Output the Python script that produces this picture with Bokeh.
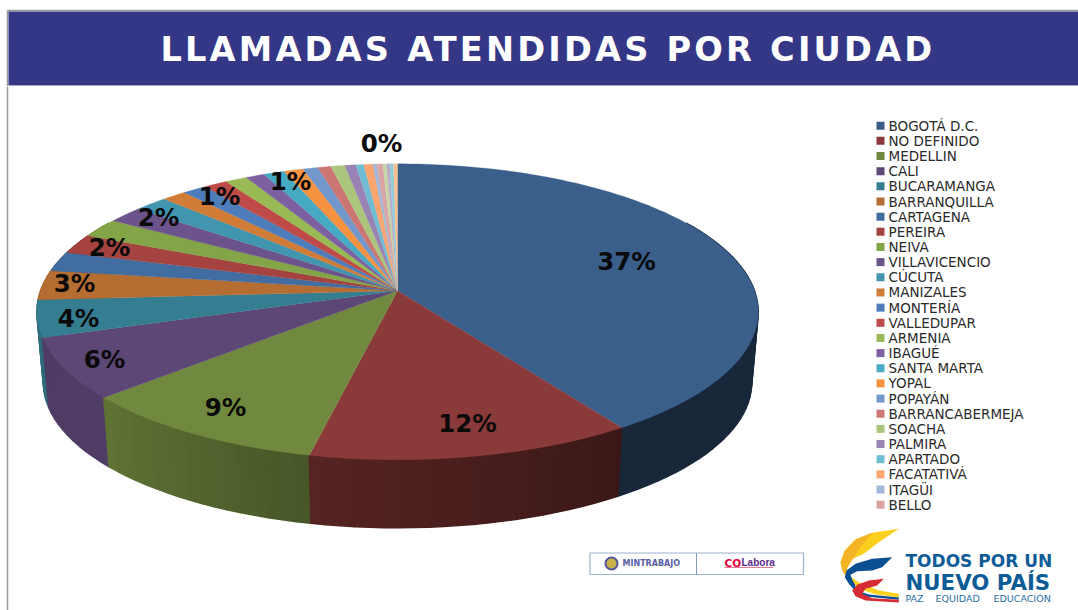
import math
from bokeh.plotting import figure
from bokeh.models import Range1d
from bokeh.layouts import column
from bokeh.embed import file_html
from bokeh.resources import INLINE
from bokeh.core.properties import value

# ---- data ----
title = "LLAMADAS ATENDIDAS POR CIUDAD"
legend_names = ["BOGOTÁ D.C.", "NO DEFINIDO", "MEDELLIN", "CALI", "BUCARAMANGA", "BARRANQUILLA",
                "CARTAGENA", "PEREIRA", "NEIVA", "VILLAVICENCIO", "CÚCUTA", "MANIZALES", "MONTERÍA",
                "VALLEDUPAR", "ARMENIA", "IBAGUÉ", "SANTA MARTA", "YOPAL", "POPAYÁN", "BARRANCABERMEJA",
                "SOACHA", "PALMIRA", "APARTADO", "FACATATIVÁ", "ITAGÜI", "BELLO"]
# share of the full turn that each slice occupies in the drawing (last four have no legend entry)
slice_shares = [40.65, 12.75, 9.96, 6.62, 4.04, 3.23, 2.15, 2.15, 2.1, 1.84, 1.74, 1.25, 1.26, 1.21, 1.12,
                0.98, 1.07, 1.0, 0.78, 0.67, 0.72, 0.56, 0.41, 0.46, 0.2, 0.31, 0.2, 0.15, 0.2, 0.2]
slice_colors = ["#3A5F8B", "#8A3A38", "#71893F", "#5C4776", "#357D91", "#B66D31", "#426DA1", "#A44340",
                "#83A447", "#6C538B", "#4295AE", "#D17C36", "#4D7DBB", "#BE4B48", "#98B954", "#7D60A0",
                "#46AAC4", "#F69240", "#7297CB", "#CC7674", "#ABC57D", "#9983B5", "#6FBCD3", "#FAA46F",
                "#A3B8D9", "#D9A5A4", "#C6D6A8", "#B9AAC9", "#93CDDC", "#FAC090"]
pct_labels = ["37%", "12%", "9%", "6%", "4%", "3%", "2%", "2%", "1%", "1%", "0%"]

# ---- layout ----
label_x = [626, 467, 225, 104, 78, 74, 109, 158, 219, 290, 381]
label_y = [261, 423, 407, 359, 318, 283, 247, 217, 196, 181, 143]
A, B, C = 357.0, 145.0, 0.1419     # perspective of the pie
CX, CY = 397.0, 290.3              # apex on screen
SHR, DROP = 0.982, 71.0            # bottom rim
SHADE = [(60, .43), (146, .42), (192, .63), (228, .85), (252, .86), (300, .9)]
W, H, SPLIT = 1078, 610, 86

def top(t):
    u, v = math.sin(t), math.cos(t)
    w = 1 + C * v
    return A * u / w, B * v / w

def shade(deg):
    for (a, fa), (b, fb) in zip(SHADE, SHADE[1:]):
        if a <= deg <= b:
            return fa + (fb - fa) * (deg - a) / (b - a)
    return .9

def darker(h, f):
    return "#%02x%02x%02x" % tuple(int(int(h[i:i + 2], 16) * f) for i in (1, 3, 5))

def canvas(h, y0, y1, **kw):
    f = figure(width=W, height=h, output_backend="svg", toolbar_location=None,
               x_range=Range1d(0, W), y_range=Range1d(y1, y0),
               min_border=0, outline_line_color=None, background_fill_color="white",
               border_fill_color="white", **kw)
    f.xaxis.visible = False
    f.yaxis.visible = False
    f.grid.visible = False
    return f

# banner, with the wide tracking of the original title
banner = canvas(SPLIT, 0, SPLIT, styles={"letter-spacing": "3.2px"})
banner.line([7, W], [10, 10], line_color="#9a9a9a", line_width=1.5)
banner.line([7, 7], [10, SPLIT], line_color="#9a9a9a", line_width=1.5)
banner.quad(left=[8], right=[W], top=[11], bottom=[85], fill_color="#343686", line_color=None)
banner.line([8, W], [85.5, 85.5], line_color="#b4b4cc", line_width=1)
banner.text([501], [49], text=[title], text_font=value("DejaVu Sans"), text_font_style="bold",
            text_font_size="33.6px", text_color="white", text_align="center", text_baseline="middle")

p = canvas(H - SPLIT, SPLIT, H)
p.line([7, 7], [SPLIT, H], line_color="#9a9a9a", line_width=1.5)

# wall strips, back to front
total = sum(slice_shares)
edges = [0.0]
for s in slice_shares:
    edges.append(edges[-1] + s / total * 2 * math.pi)
strips = []
for i, col in enumerate(slice_colors):
    t0, t1 = edges[i], edges[i + 1]
    if t1 < math.radians(60) or t0 > math.radians(300):
        continue
    a0, a1 = max(t0, math.radians(60)), min(t1, math.radians(300))
    n = max(1, int(math.degrees(a1 - a0) / 2))
    for k in range(n):
        s0 = a0 + (a1 - a0) * k / n
        s1 = a0 + (a1 - a0) * (k + 1) / n
        X0, Y0 = top(s0); X1, Y1 = top(s1)
        xs = [CX + X0, CX + X1, CX + SHR * X1, CX + SHR * X0]
        ys = [CY - Y0, CY - Y1, CY - SHR * Y1 + DROP, CY - SHR * Y0 + DROP]
        c = darker(col, shade(math.degrees((s0 + s1) / 2)))
        strips.append((-(Y0 + Y1), xs, ys, c))
strips.sort(key=lambda r: r[0])
p.patches([r[1] for r in strips], [r[2] for r in strips], fill_color=[r[3] for r in strips],
          line_color=[r[3] for r in strips], line_width=1.5)

# top surface
wx, wy = [], []
for i in range(len(slice_shares)):
    t0, t1 = edges[i], edges[i + 1]
    n = max(2, int(math.degrees(t1 - t0)))
    xs, ys = [CX], [CY]
    for k in range(n + 1):
        X, Y = top(t0 + (t1 - t0) * k / n)
        xs.append(CX + X); ys.append(CY - Y)
    wx.append(xs); wy.append(ys)
p.patches(wx, wy, fill_color=slice_colors, line_color=slice_colors, line_width=0.3)

# percent labels
p.text(label_x, label_y, text=pct_labels, text_font=value("DejaVu Sans"), text_font_style="bold",
       text_font_size="24.5px", text_color="#0a0a0a", text_align="center", text_baseline="middle")

# legend
ly = [125.2 + 15.16 * i for i in range(len(legend_names))]
p.rect([880] * len(ly), ly + [], width=8, height=8, width_units="screen", height_units="screen",
       fill_color=slice_colors[:len(ly)], line_color=None)
p.text([888] * len(ly), ly, text=legend_names, text_font=value("DejaVu Sans"), text_font_size="13.5px",
       text_color="#2a2a2a", text_align="left", text_baseline="middle")

# MINTRABAJO / COLabora box
p.quad(left=[589.5], right=[803], top=[552.5], bottom=[574], fill_color=None, line_color="#9db4cc", line_width=1.2)
p.line([696, 696], [552.5, 574], line_color="#7f9ab8", line_width=1)
p.circle([611], [563], radius=6, radius_units="screen", fill_color="#c9b24a", line_color="#55569e", line_width=2)
p.text([622], [563], text=["MINTRABAJO"], text_font=value("DejaVu Sans"), text_font_style="bold", text_font_size="8px",
       text_color="#5b5ea6", text_baseline="middle")
p.text([724], [562], text=["CO"], text_font=value("DejaVu Sans"), text_font_style="bold", text_font_size="10.5px",
       text_color="#e4003a", text_baseline="middle")
p.text([741], [562], text=["Labora"], text_font=value("Liberation Sans"), text_font_style="bold", text_font_size="10px",
       text_color="#5b2a86", text_baseline="middle")
p.line([724, 773], [567, 567], line_color="#e77a95", line_width=1)

# campaign logo, outlines traced in a 3x crop whose corner is at (835, 525)
def logo(points, colour):
    p.patch([835 + a / 3 for a, _ in points], [525 + b / 3 for _, b in points], fill_color=colour, line_color=None)

logo([(190, 10), (110, 22), (60, 42), (28, 75), (15, 110), (20, 135), (30, 150), (36, 125), (52, 100), (85, 85), (130, 50)], "#fbcf1d")
logo([(110, 22), (60, 42), (28, 75), (15, 110), (20, 135), (30, 150), (36, 125), (55, 95), (75, 65)], "#f4b426")
logo([(40, 150), (70, 170), (130, 195), (190, 205), (190, 216), (120, 206), (70, 190), (52, 170)], "#fbd21e")
logo([(170, 95), (110, 100), (60, 115), (33, 135), (28, 155), (40, 175), (55, 192), (100, 207), (190, 216), (190, 223),
      (90, 213), (55, 200), (60, 180), (50, 162), (45, 148), (65, 137), (110, 135), (140, 125)], "#0a4f92")
logo([(145, 160), (100, 165), (65, 178), (50, 195), (60, 212), (90, 225), (190, 231), (190, 223), (110, 218), (80, 205),
      (90, 190), (125, 180)], "#d62a35")

p.text([905], [560], text=["TODOS POR UN"], text_font=value("DejaVu Sans"), text_font_style="bold",
       text_font_size="17px", text_color="#0d5c97", text_baseline="middle")
p.text([905], [581.5], text=["NUEVO PAÍS"], text_font=value("DejaVu Sans"), text_font_style="bold",
       text_font_size="21.3px", text_color="#0d5c97", text_baseline="middle")
p.text([905, 935, 993], [597.5] * 3, text=["PAZ", "EQUIDAD", "EDUCACIÓN"], text_font=value("DejaVu Sans"),
       text_font_size="9.5px", text_color="#2c6f9f", text_baseline="middle")

page = column(banner, p, spacing=0)
open("out.html", "w").write(file_html(page, INLINE))
